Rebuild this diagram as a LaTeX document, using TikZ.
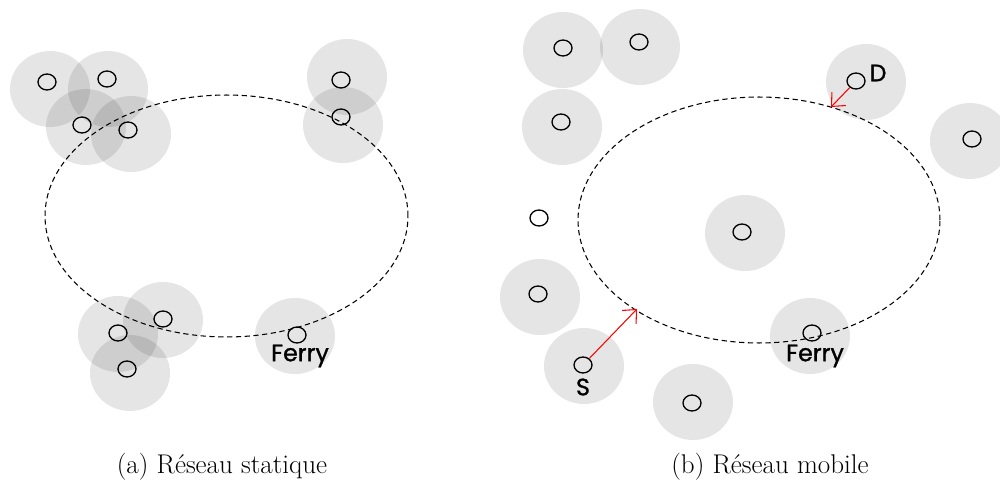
\documentclass[tikz,border=0pt]{standalone}
\usepackage{fontspec}
\newfontfamily\labfont[FakeBold=1.2]{Poppins}
\usetikzlibrary{shapes.geometric,arrows.meta}
\begin{document}
\begin{tikzpicture}[x=0.02cm,y=-0.02cm,
  disk/.style={fill=black,fill opacity=0.1,draw=none},
  peer/.style={ellipse,draw=black,line width=0.75pt,minimum width=0.36cm,minimum height=0.32cm,inner sep=0pt},
  route/.style={draw=black,dashed,dash pattern=on 3pt off 2pt,line width=0.6pt},
  lab/.style={font=\labfont\fontsize{13.5}{15}\selectfont,inner sep=0pt},
  move/.style={draw=red,line width=0.6pt,-{Straight Barb[length=6pt,width=11pt]}},
  captext/.style={font=\fontsize{15.4}{18}\selectfont,inner sep=0pt}]
\useasboundingbox (0,0) rectangle (1000,486);
% ---- left panel disks
\foreach \p in {(50,89),(108,89),(86,127),(131,134),(347,77),(343,125),(118,334),(163,320),(130,373),(295,336)}
  \fill[disk] \p ellipse[x radius=0.8cm,y radius=0.76cm];
% ---- right panel disks
\foreach \p in {(563,50),(640,47),(562,127),(866,82),(970,141),(745,233),(540,297),(584,366),(810,336),(693,402)}
  \fill[disk] \p ellipse[x radius=0.8cm,y radius=0.76cm];
% ---- dashed routes
\draw[route] (226.5,216) ellipse[x radius=3.63cm,y radius=2.42cm];
\draw[route] (759,220) ellipse[x radius=3.62cm,y radius=2.46cm];
% ---- left panel peers
\node[peer] (a1) at (47,82) {};
\node[peer] (a2) at (107,79) {};
\node[peer] (a3) at (82,125) {};
\node[peer] (a4) at (128,130) {};
\node[peer] (a5) at (341,80) {};
\node[peer] (a6) at (341,117) {};
\node[peer] (a7) at (118,333) {};
\node[peer] (a8) at (163,319) {};
\node[peer] (a9) at (127,369) {};
\node[peer] (aF) at (297,335) {};
\node[lab] (aFl) at (300,356) {Ferry};
% ---- right panel peers
\node[peer] (b1) at (563,48) {};
\node[peer] (b2) at (639,42) {};
\node[peer] (b3) at (561,122) {};
\node[peer] (bD) at (856,81) {};
\node[lab] (bDl) at (878,73) {D};
\node[peer] (b5) at (972,139) {};
\node[peer] (b6) at (742,232) {};
\node[peer] (b7) at (539,218) {};
\node[peer] (b8) at (538,294) {};
\node[peer] (bS) at (583,365) {};
\node[lab] (bSl) at (583,387) {S};
\node[peer] (bF) at (812,333) {};
\node[lab] (bFl) at (815,356) {Ferry};
\node[peer] (b9) at (692,403) {};
% ---- movement arrows
\coordinate (tD) at (831,107);
\coordinate (tS) at (637,309);
\draw[move] (bD) -- (tD);
\draw[move] (bS) -- (tS);
% ---- captions
\node[captext] (capa) at (222,467) {(a) Réseau statique};
\node[captext] (capb) at (770,467) {(b) Réseau mobile};
\end{tikzpicture}
\end{document}
